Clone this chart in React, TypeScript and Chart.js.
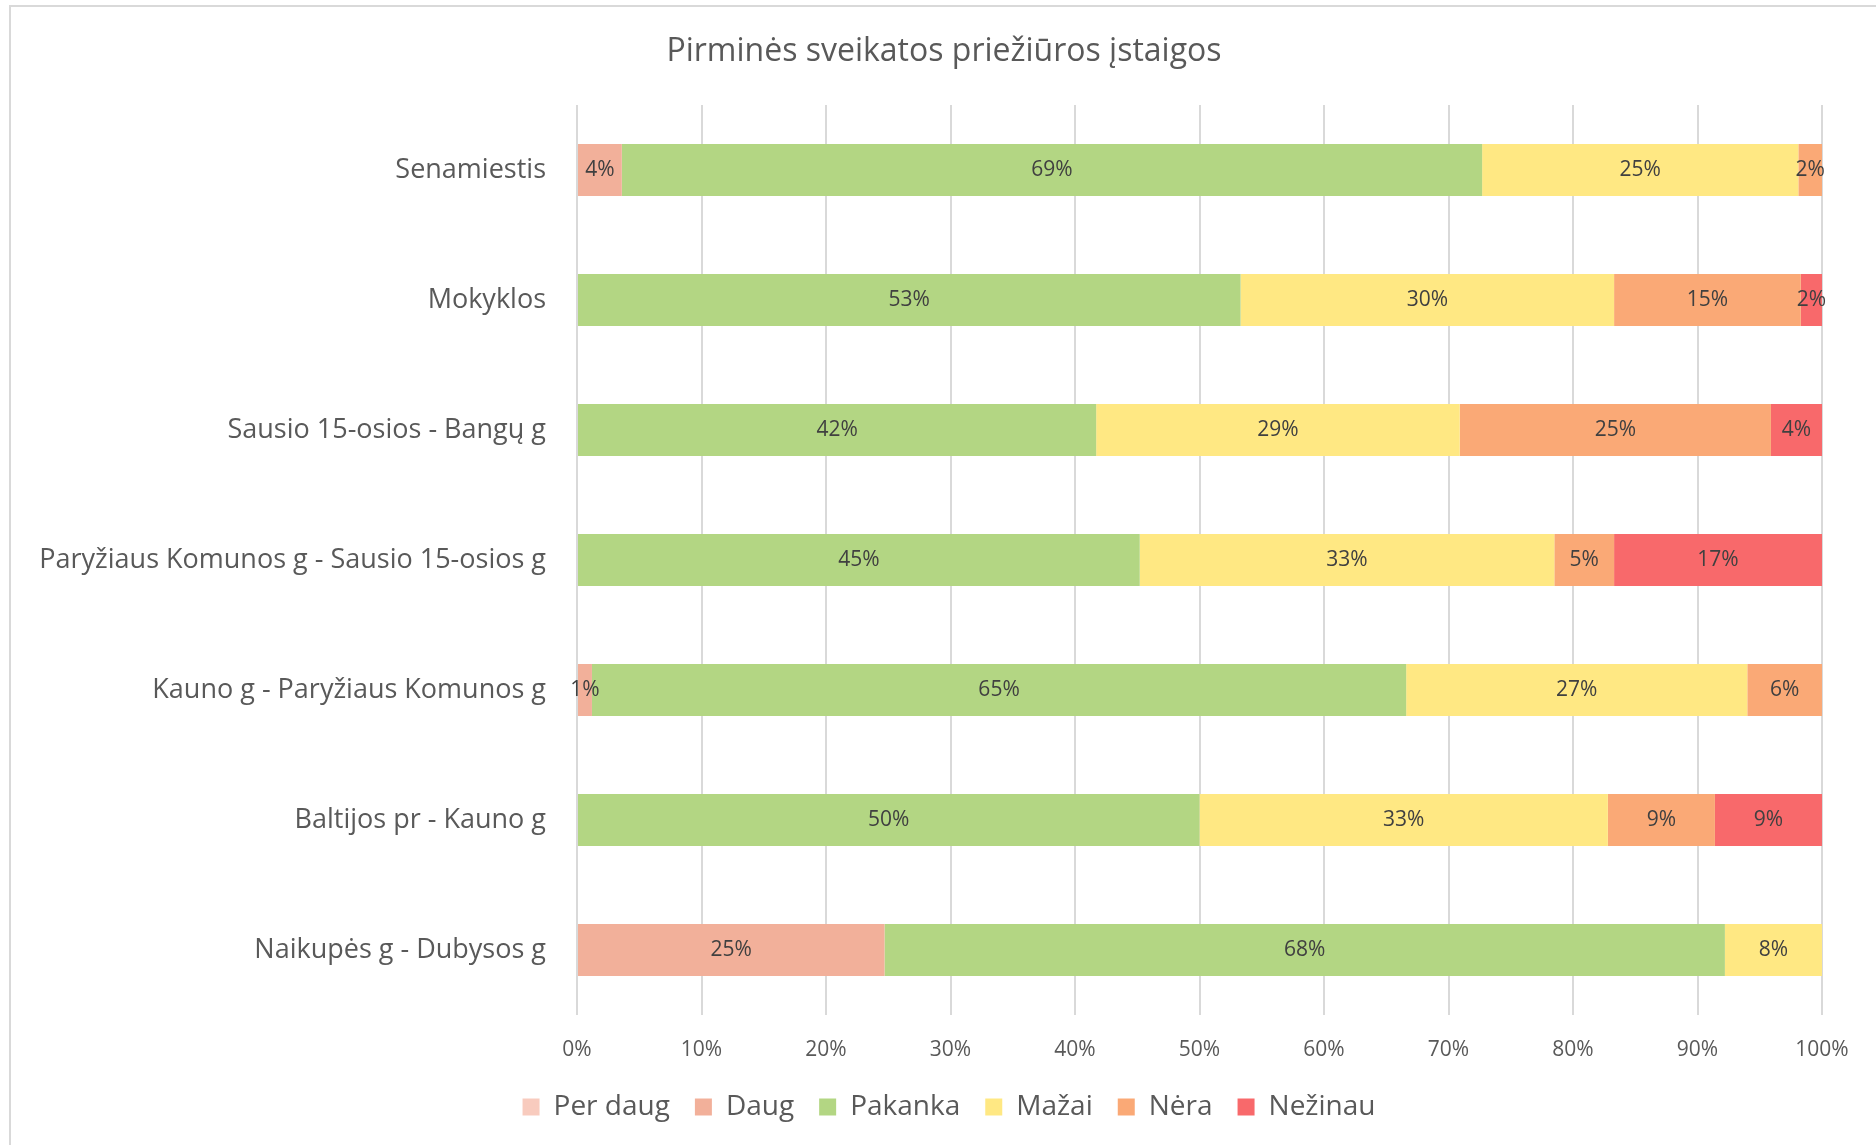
import React, { useEffect, useRef } from "react";
import { Chart, registerables } from "chart.js";

Chart.register(...registerables);

const chartTitle = "Pirminės sveikatos priežiūros įstaigos";
const categories = [
  "Senamiestis",
  "Mokyklos",
  "Sausio 15-osios - Bangų g",
  "Paryžiaus Komunos g - Sausio 15-osios g",
  "Kauno g - Paryžiaus Komunos g",
  "Baltijos pr - Kauno g",
  "Naikupės g - Dubysos g",
];
const seriesNames = ["Per daug", "Daug", "Pakanka", "Mažai", "Nėra", "Nežinau"];
const perDaug = [0, 0, 0, 0, 0, 0, 0];
const daug = [3.6, 0, 0, 0, 1.2, 0, 24.7];
const pakanka = [69.1, 53.3, 41.7, 45.2, 65.4, 50.0, 67.5];
const mazai = [25.4, 30.0, 29.2, 33.3, 27.4, 32.8, 7.8];
const nera = [1.9, 15.0, 25.0, 4.8, 6.0, 8.6, 0];
const nezinau = [0, 1.7, 4.1, 16.7, 0, 8.6, 0];
const seriesColors = ["#F8CBBE", "#F2B09A", "#B3D683", "#FFE883", "#FAA976", "#F8696B"];
const xTickMin = 0;
const xTickMax = 100;
const xTickStep = 10;

const FONT = '"Open Sans", "Noto Sans", sans-serif';

const segmentLabels = {
  id: "segmentLabels",
  afterDatasetsDraw(chart: any) {
    const ctx = chart.ctx;
    ctx.save();
    ctx.font = `21px ${FONT}`;
    ctx.fillStyle = "#404040";
    ctx.textAlign = "center";
    ctx.textBaseline = "middle";
    chart.data.datasets.forEach((ds: any, i: number) => {
      const meta = chart.getDatasetMeta(i);
      if (meta.hidden) return;
      meta.data.forEach((el: any, j: number) => {
        const v = ds.data[j];
        if (!v) return;
        const p = el.getProps(["x", "y", "base"], true);
        ctx.fillText(Math.round(v) + "%", (p.x + p.base) / 2, p.y);
      });
    });
    ctx.restore();
  },
};

const titlePlugin = {
  id: "customTitle",
  afterLayout(chart: any) {
    // let the long category labels use the full left margin (no clipping)
    if (chart.scales && chart.scales.y) chart.scales.y.left = 0;
  },
  afterDraw(chart: any) {
    const ctx = chart.ctx;
    ctx.save();
    ctx.font = `32px ${FONT}`;
    ctx.fillStyle = "#595959";
    ctx.textAlign = "center";
    ctx.textBaseline = "middle";
    ctx.fillText(chartTitle, 944, 52);
    ctx.restore();
  },
};

export default function App() {
  const canvasRef = useRef<HTMLCanvasElement | null>(null);

  useEffect(() => {
    let chart: Chart | null = null;
    let cancelled = false;
    const build = () => {
      if (cancelled || !canvasRef.current) return;
      const seriesData = [perDaug, daug, pakanka, mazai, nera, nezinau];
      chart = new Chart(canvasRef.current, {
        type: "bar",
        data: {
          labels: categories,
          datasets: seriesNames.map((name, i) => ({
            label: name,
            data: seriesData[i],
            backgroundColor: seriesColors[i],
            borderWidth: 0,
            categoryPercentage: 1,
            barPercentage: 0.4,
          })),
        },
        options: {
          indexAxis: "y",
          responsive: false,
          animation: false,
          devicePixelRatio: 1,
          layout: { padding: { top: 105, right: 54, bottom: 14, left: 76 } },
          font: { family: FONT },
          scales: {
            x: {
              stacked: true,
              min: xTickMin,
              max: xTickMax,
              afterFit: (scale: any) => {
                scale.height = 53;
              },
              border: { display: false },
              grid: { color: "#d9d9d9", lineWidth: 2, drawTicks: false },
              ticks: {
                stepSize: xTickStep,
                padding: 22,
                color: "#595959",
                font: { family: FONT, size: 21 },
                callback: (v: any) => v + "%",
              },
            },
            y: {
              stacked: true,
              afterFit: (scale: any) => {
                scale.width = 501;
              },
              border: { display: false },
              grid: { display: false, drawTicks: false },
              ticks: {
                padding: 31,
                color: "#595959",
                font: { family: FONT, size: 27 },
              },
            },
          },
          plugins: {
            title: { display: false },
            tooltip: { enabled: false },
            legend: {
              position: "bottom",
              labels: {
                boxWidth: 17,
                boxHeight: 17,
                padding: 25,
                color: "#595959",
                font: { family: FONT, size: 28 },
              },
            },
          },
        },
        plugins: [segmentLabels, titlePlugin],
      } as any);
    };
    const fontsApi: any = (document as any).fonts;
    if (fontsApi && fontsApi.load) {
      Promise.all([
        fontsApi.load(`20px "Open Sans"`),
        fontsApi.load(`28px "Open Sans"`),
      ])
        .catch(() => {})
        .then(build);
    } else {
      build();
    }
    return () => {
      cancelled = true;
      if (chart) chart.destroy();
    };
  }, []);

  return (
    <div
      style={{
        position: "fixed",
        left: 0,
        top: 0,
        width: 1876,
        height: 1145,
        background: "#ffffff",
        overflow: "hidden",
      }}
    >
      <div
        style={{
          position: "absolute",
          left: 9,
          top: 5,
          width: 1920,
          height: 1200,
          border: "2px solid #d9d9d9",
          boxSizing: "border-box",
        }}
      />
      <canvas
        ref={canvasRef}
        width={1876}
        height={1145}
        style={{ position: "absolute", left: 0, top: 0, width: 1876, height: 1145 }}
      />
    </div>
  );
}
